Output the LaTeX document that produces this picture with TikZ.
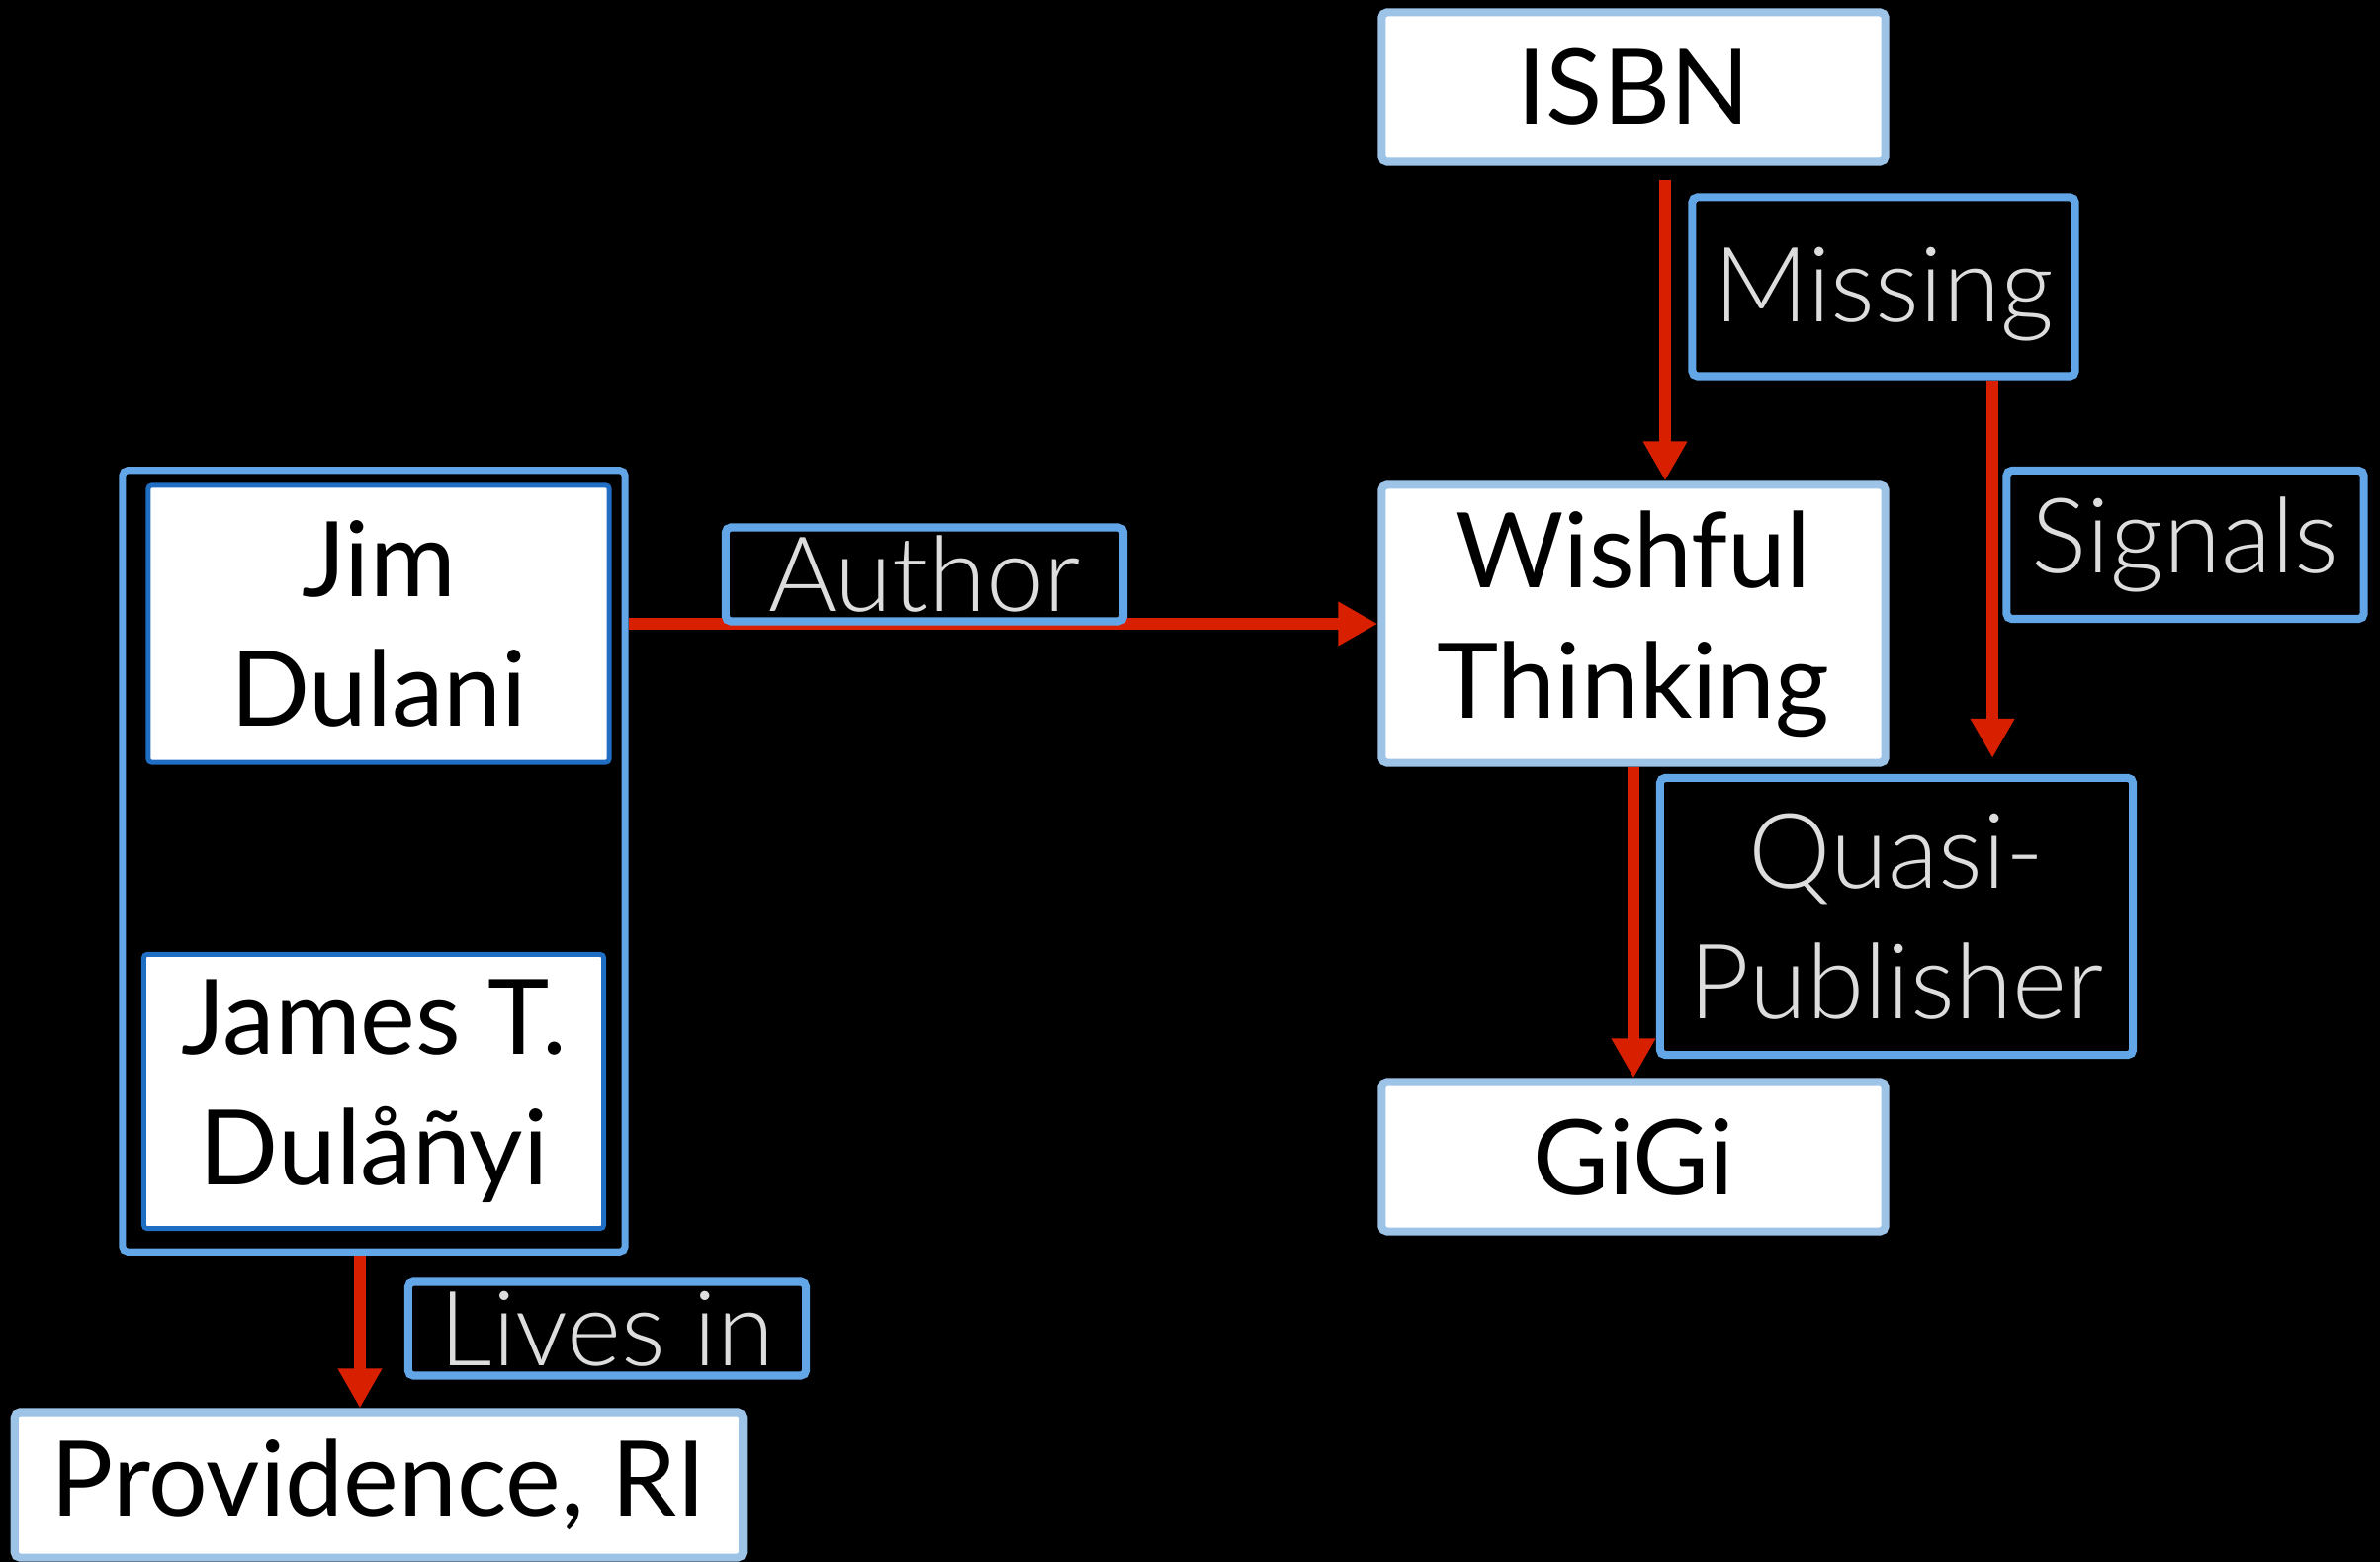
\documentclass[tikz,border=0pt]{standalone}
\usepackage{fontspec}
\setmainfont{Lato}
\newfontfamily\lblfont{Lato Light}
\usetikzlibrary{arrows.meta}
\definecolor{nodeblue}{HTML}{9DC3E6}
\definecolor{lblblue}{HTML}{62A6E8}
\definecolor{darkblue}{HTML}{1F6EC3}
\definecolor{arrred}{HTML}{D82000}
\definecolor{lbltext}{HTML}{DDDDDD}
\begin{document}
\begin{tikzpicture}[x=0.01cm,y=-0.01cm,
  every node/.style={font=\fontsize{30}{37.5}\selectfont, align=center, inner sep=0pt},
  whitebox/.style={draw=nodeblue, line width=2.3pt, fill=white, text=black, rounded corners=1.5pt},
  namebox/.style={draw=darkblue, line width=1.4pt, fill=white, text=black, rounded corners=1pt},
  groupbox/.style={draw=lblblue, line width=2pt, rounded corners=1.5pt},
  lblbox/.style={draw=lblblue, line width=2.3pt, fill=black, text=lbltext, rounded corners=1.5pt,
    font=\lblfont\fontsize{30}{37.5}\selectfont},
  link/.style={draw=arrred, line width=3.4pt, -{Triangle[length=0.40cm,width=0.42cm]}}]
\fill[black] (0,0) rectangle (2407,1580);
\useasboundingbox (0,0) rectangle (2407,1580);

% left group
\node[groupbox, minimum width=5.08cm, minimum height=7.90cm] (outer) at (378,871) {};
\node[namebox, minimum width=4.66cm, minimum height=2.80cm] (jim) at (383,631) {Jim\\Dulani};
\node[namebox, minimum width=4.65cm, minimum height=2.77cm] (james) at (378,1104) {James T.\\Dulåñyi};
\node[whitebox, minimum width=7.36cm, minimum height=1.47cm] (prov) at (383,1502) {Providence, RI};

% right side
\node[whitebox, minimum width=5.09cm, minimum height=1.51cm] (isbn) at (1652,88) {ISBN};
\node[whitebox, minimum width=5.09cm, minimum height=2.81cm] (wish) at (1652,631) {Wishful\\Thinking};
\node[whitebox, minimum width=5.09cm, minimum height=1.51cm] (gigi) at (1652,1170) {GiGi};

% connectors
\draw[link] (jim.center -| outer.east) -- (jim.center -| wish.west);
\draw[link, shorten <=0.14cm] ([xshift=0.32cm]isbn.south) -- ([xshift=0.32cm]isbn.south |- wish.north);
\draw[link] (wish.south) -- (gigi.north);
\draw[link] ([xshift=-0.14cm]outer.south) -- ([xshift=-0.14cm]outer.south |- prov.north);

% labels
\node[lblbox, minimum width=3.87cm, minimum height=1.81cm, text depth=0.05cm] (missing) at (1905,290) {Missing};
\node[lblbox, minimum width=4.78cm, minimum height=2.80cm] (quasi) at (1918,927) {Quasi-\\Publisher};
\draw[link, shorten >=0.16cm] ([xshift=1.10cm]missing.south) -- ([xshift=1.10cm]missing.south |- quasi.north);
\node[lblbox, minimum width=3.61cm, minimum height=1.50cm] (signals) at (2210,551) {Signals};
\node[lblbox, minimum width=4.02cm, minimum height=0.95cm] (author) at (935,581) {Author};
\node[lblbox, minimum width=4.02cm, minimum height=0.95cm] (lives) at (614,1344) {Lives in};
\end{tikzpicture}
\end{document}
